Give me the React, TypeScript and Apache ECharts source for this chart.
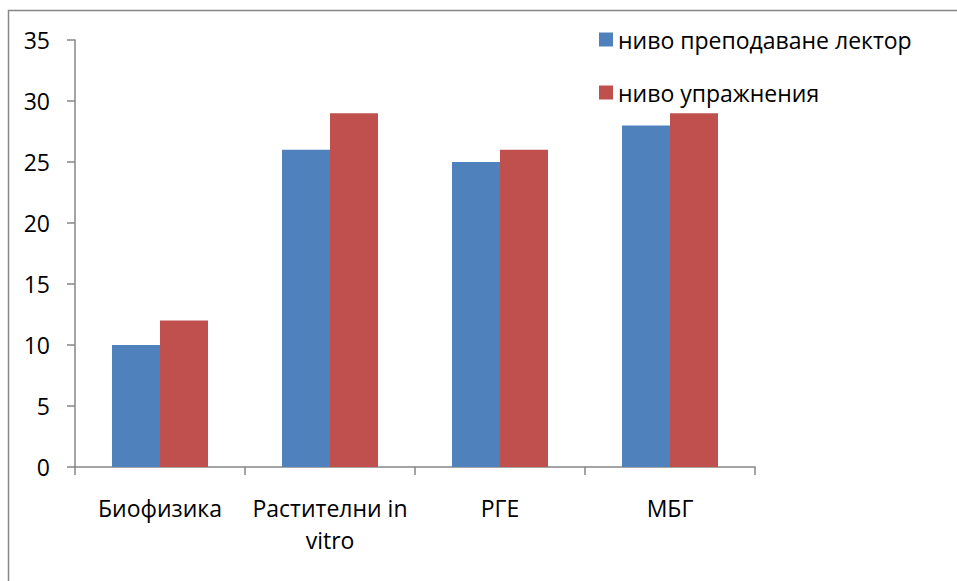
import React, { useEffect, useRef } from "react";
import * as echarts from "echarts";

const categories = ["Биофизика", "Растителни in\nvitro", "РГЕ", "МБГ"];
const seriesNames = ["ниво преподаване лектор", "ниво упражнения"];
const lectorValues = [10, 26, 25, 28];
const exerciseValues = [12, 29, 26, 29];
const colors = ["#4F81BD", "#C0504D"];

const FONT = "'Open Sans', 'Noto Sans', sans-serif";

export default function App() {
  const ref = useRef<HTMLDivElement>(null);
  useEffect(() => {
    if (!ref.current) return;
    const chart = echarts.init(ref.current, undefined, { renderer: "svg" });
    chart.setOption({
      animation: false,
      backgroundColor: "#ffffff",
      textStyle: { fontFamily: FONT },
      graphic: [
        {
          type: "rect",
          shape: { x: 8.5, y: 10.5, width: 1200, height: 800 },
          style: { fill: "none", stroke: "#868686", lineWidth: 1.5 },
          silent: true,
        },
      ],
      legend: {
        orient: "vertical",
        left: 594,
        top: 23,
        itemWidth: 14,
        itemHeight: 14,
        itemGap: 30,
        icon: "rect",
        textStyle: { fontSize: 23, lineHeight: 20, color: "#000", fontFamily: FONT },
        data: seriesNames,
      },
      grid: { left: 75, top: 40, width: 680, height: 427, containLabel: false },
      xAxis: {
        type: "category",
        data: categories,
        axisLine: { lineStyle: { color: "#868686", width: 1.5 } },
        axisTick: { show: true, length: 8, alignWithLabel: false, lineStyle: { color: "#868686", width: 1.5 } },
        axisLabel: { fontSize: 23, color: "#000", margin: 25, lineHeight: 32, interval: 0, fontFamily: FONT },
      },
      yAxis: {
        type: "value",
        min: 0,
        max: 35,
        interval: 5,
        splitLine: { show: false },
        axisLine: { show: true, lineStyle: { color: "#868686", width: 1.5 } },
        axisTick: { show: true, length: 8, lineStyle: { color: "#868686", width: 1.5 } },
        axisLabel: { fontSize: 23, color: "#000", margin: 25, fontFamily: FONT },
      },
      series: [
        {
          name: seriesNames[0],
          type: "bar",
          data: lectorValues,
          barWidth: 48,
          barGap: "0%",
          itemStyle: { color: colors[0] },
        },
        {
          name: seriesNames[1],
          type: "bar",
          data: exerciseValues,
          barWidth: 48,
          barGap: "0%",
          itemStyle: { color: colors[1] },
        },
      ],
    });
    return () => chart.dispose();
  }, []);
  return (
    <div
      ref={ref}
      style={{ position: "absolute", left: 0, top: 0, width: 957, height: 581 }}
    />
  );
}
